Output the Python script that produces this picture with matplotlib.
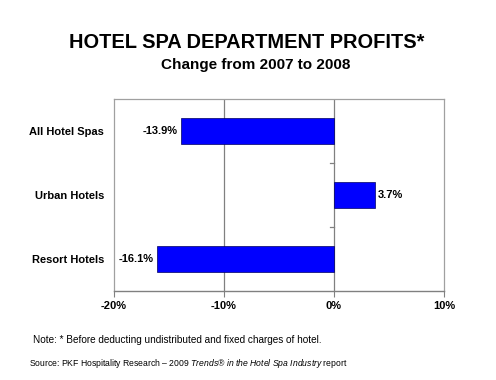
import numpy as np
import matplotlib.pyplot as plt

plt.rcParams['font.family'] = ['Liberation Sans', 'DejaVu Sans']
plt.rcParams['mathtext.fontset'] = 'custom'
plt.rcParams['mathtext.rm'] = 'Liberation Sans'
plt.rcParams['mathtext.it'] = 'Liberation Sans:italic'

# --- Data ---
categories = ["All Hotel Spas", "Urban Hotels", "Resort Hotels"]
changes = [-13.9, 3.7, -16.1]
value_labels = ["-13.9%", "3.7%", "-16.1%"]
x_ticks = [-20, -10, 0, 10]
x_tick_labels = ["-20%", "-10%", "0%", "10%"]

fig = plt.figure(figsize=(4.96, 3.8), dpi=100)
ax = fig.add_axes([114 / 496, 1 - 291 / 380, 330 / 496, 192 / 380])

y = np.arange(len(categories))[::-1]
ax.barh(y, changes, height=0.41, color="#0000FF", edgecolor="#000060", linewidth=0.5, zorder=3)

for yi, v, lab in zip(y, changes, value_labels):
    if v < 0:
        ax.text(v - 0.3, yi, lab, ha="right", va="center", fontsize=8, fontweight="bold")
    else:
        ax.text(v + 0.3, yi, lab, ha="left", va="center", fontsize=8, fontweight="bold")

ax.set_xlim(-20, 10)
ax.set_ylim(-0.5, len(categories) - 0.5)
ax.set_xticks(x_ticks)
ax.set_xticklabels(x_tick_labels, fontsize=8, fontweight="bold")
ax.set_yticks(y)
ax.set_yticklabels(categories, fontsize=8, fontweight="bold")
ax.tick_params(axis="y", length=0, pad=7)
ax.tick_params(axis="x", length=4, color="#808080", pad=3)

# vertical gridlines
for xv in x_ticks[1:-1]:
    ax.axvline(xv, color="#808080", linewidth=0.9, zorder=1)

# category separators on the 0% axis
for b in [0.5, 1.5]:
    ax.plot([-0.35, 0], [b, b], color="#808080", linewidth=0.9, zorder=2)

for side in ["left", "top", "right"]:
    ax.spines[side].set_color("#a0a0a0")
    ax.spines[side].set_linewidth(0.9)
ax.spines["bottom"].set_color("#808080")
ax.spines["bottom"].set_linewidth(1.0)

fig.text(0.497, 1 - 43 / 380, "HOTEL SPA DEPARTMENT PROFITS*", ha="center", va="center",
         fontsize=14.4, fontweight="bold")
fig.text(256 / 496, 1 - 65 / 380, "Change from 2007 to 2008", ha="center", va="center",
         fontsize=11, fontweight="bold")

fig.text(33 / 496, 1 - 340 / 380, "Note: * Before deducting undistributed and fixed charges of hotel.",
         ha="left", va="center", fontsize=7.2)
fig.text(29 / 496, 1 - 364 / 380,
         r"Source: PKF Hospitality Research – 2009 $\it{Trends}$® $\it{in\ the\ Hotel\ Spa\ Industry}$ report",
         ha="left", va="center", fontsize=6.2)

fig.savefig("out.png", dpi=100)
